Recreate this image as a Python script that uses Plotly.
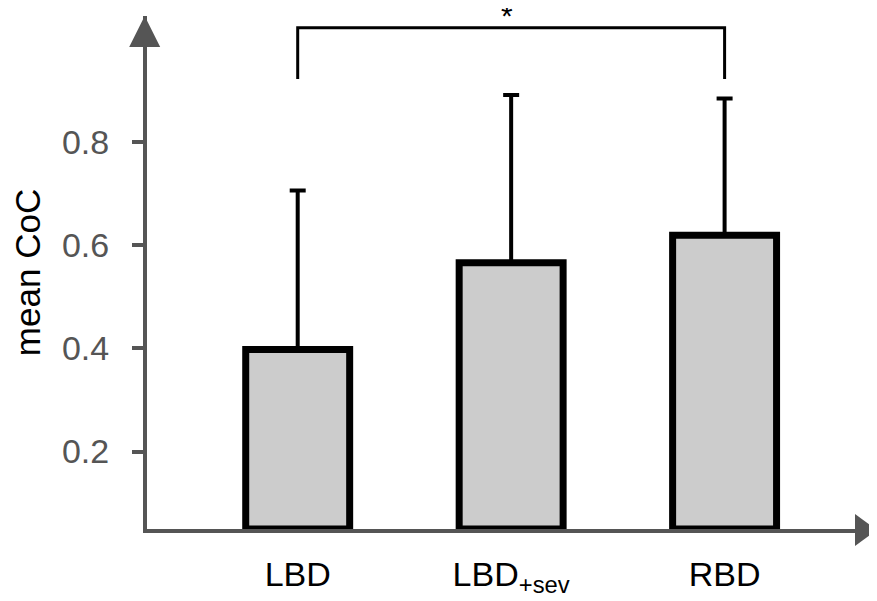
import plotly.graph_objects as go

# ---- data ----
categories = ["LBD", "LBD+sev", "RBD"]
tick_labels = ["LBD", "LBD<sub>+sev</sub>", "RBD"]
mean_coc = [0.398, 0.566, 0.619]
sd_upper = [0.308, 0.325, 0.265]
y_ticks = [0.2, 0.4, 0.6, 0.8]
y_tick_labels = ["0.2", "0.4", "0.6", "0.8"]
AXIS_MIN = 0.05
AXIS_MAX = 1.044
sig_pair = ("LBD", "RBD")
sig_label = "*"
BRACKET_TOP = 1.021
BRACKET_BOTTOM = 0.922

AXIS_COLOR = "#555555"
FONT = "Liberation Sans, Arial, sans-serif"

heights = [m - AXIS_MIN for m in mean_coc]

fig = go.Figure()
fig.add_trace(go.Bar(
    x=categories,
    y=heights,
    base=AXIS_MIN,
    width=0.487,
    marker=dict(color="#cccccc", line=dict(color="black", width=7)),
    error_y=dict(type="data", array=sd_upper, arrayminus=[0] * len(sd_upper),
                 symmetric=False, color="black", thickness=4, width=8),
    hoverinfo="skip",
))

i0 = categories.index(sig_pair[0])
i1 = categories.index(sig_pair[1])
fig.add_shape(type="path",
              path=f"M {i0},{BRACKET_BOTTOM} L {i0},{BRACKET_TOP} L {i1},{BRACKET_TOP} L {i1},{BRACKET_BOTTOM}",
              xref="x", yref="y", line=dict(color="black", width=3))
fig.add_annotation(x=(i0 + i1) / 2 - 0.02, y=BRACKET_TOP, xref="x", yref="y",
                   text=sig_label, showarrow=False, yanchor="bottom", yshift=-6,
                   font=dict(family=FONT, size=30, color="black"))

# arrow heads
fig.add_shape(type="path", xref="paper", yref="paper", xsizemode="pixel", ysizemode="pixel",
              xanchor=0, yanchor=1, path="M -2.3,0 L -17.8,-31 L 13.2,-31 Z",
              fillcolor=AXIS_COLOR, line=dict(width=0))
fig.add_shape(type="path", xref="paper", yref="paper", xsizemode="pixel", ysizemode="pixel",
              xanchor=1, yanchor=0, path="M 0,-1 L -22,15 L -22,-17 Z",
              fillcolor=AXIS_COLOR, line=dict(width=0))

# the page body has an 8px margin, so the figure is sized/offset to compensate
fig.update_layout(
    width=869, height=593,
    margin=dict(l=139, r=0, t=8, b=72),
    paper_bgcolor="white", plot_bgcolor="white",
    showlegend=False,
    font=dict(family=FONT),
    xaxis=dict(
        type="category",
        automargin=False,
        range=[-0.706, 2.714],
        tickmode="array", tickvals=categories, ticktext=tick_labels,
        showline=True, linecolor=AXIS_COLOR, linewidth=4,
        ticks="", showgrid=False, zeroline=False,
        tickfont=dict(family=FONT, size=34, color="black"),
        ticklabelstandoff=12,
    ),
    yaxis=dict(
        automargin=False,
        range=[AXIS_MIN, AXIS_MAX],
        tickmode="array", tickvals=y_ticks, ticktext=y_tick_labels,
        showline=True, linecolor=AXIS_COLOR, linewidth=4,
        ticks="outside", ticklen=11, tickwidth=4, tickcolor=AXIS_COLOR,
        showgrid=False, zeroline=False,
        tickfont=dict(family=FONT, size=34, color=AXIS_COLOR),
        ticklabelstandoff=16,
        title=dict(text="mean CoC", font=dict(family=FONT, size=35, color="black"), standoff=13),
    ),
)

fig.write_html("out.html")
